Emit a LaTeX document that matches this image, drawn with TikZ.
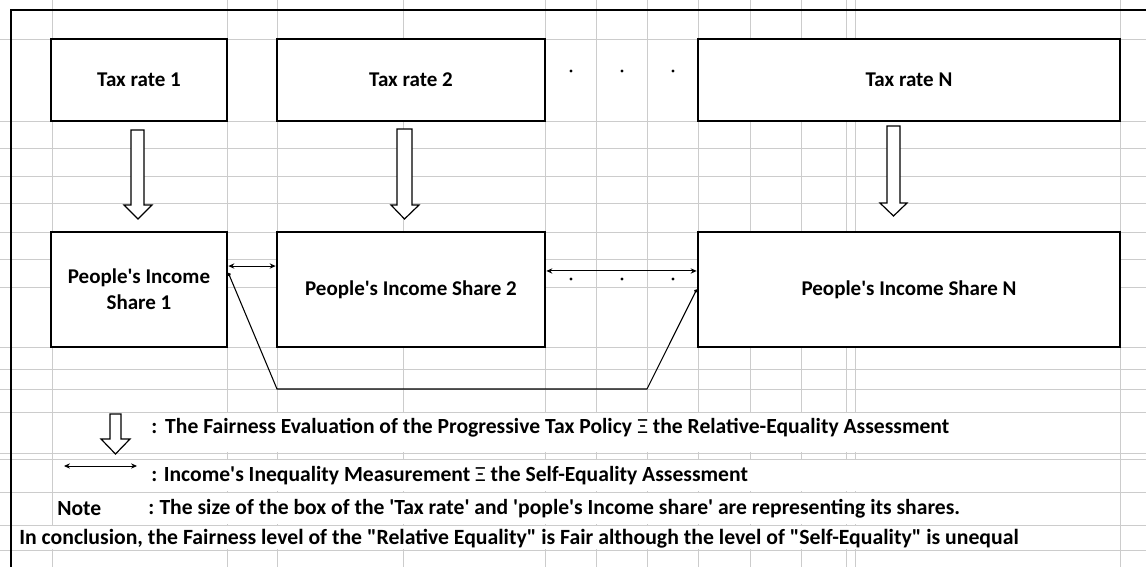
\documentclass[tikz,border=0pt]{standalone}
\usepackage{fontspec}
\setmainfont{Carlito}
\usetikzlibrary{arrows.meta,calc}
\newcommand\sq{\textquotesingle}
\newcommand\dq{\textquotedbl}
\newcommand\equivsign{{\mdseries Ξ}}
\begin{document}
\begin{tikzpicture}[x=0.75pt,y=-0.75pt,
  gridline/.style={draw=black!20,line width=0.6pt},
  frameline/.style={draw=black,line width=2.2pt},
  box/.style={draw=black,line width=2pt,fill=white,align=center,inner sep=0pt,
    font=\fontsize{15.75}{19.5}\selectfont\bfseries},
  hollow/.style={draw=black,line width=0.9pt,fill=white,line join=miter},
  darrow/.style={draw=black,line width=0.75pt,{Stealth[length=4.5pt,width=4pt]}-{Stealth[length=4.5pt,width=4pt]}},
  conn/.style={draw=black,line width=0.8pt,{Circle[length=2.6pt]}-{Circle[length=2.6pt]}},
  dotmark/.style={fill=black,circle,inner sep=0pt,minimum size=2.4pt},
  legend/.style={anchor=west,inner sep=0pt,font=\fontsize{16.2}{18}\selectfont\bfseries}]
\useasboundingbox (0,0) rectangle (1146,567);
\fill[white] (0,0) rectangle (1146,567);
% spreadsheet grid
\foreach \gx in {52,227,277,403,545,596,647,698,750,801,846,855,1120}
  \draw[gridline] (\gx,0) -- (\gx,567);
\foreach \gy in {39,121,148,176,203,232,259,287,347,369,389,412,453,459,492,525,550}
  \draw[gridline] (0,\gy) -- (1146,\gy);
% merged text rows hide grid lines
\fill[white] (52.6,412.6) rectangle (1119.4,452.4);
\fill[white] (52.6,459.6) rectangle (1119.4,491.4);
\fill[white] (52.6,492.6) rectangle (1119.4,524.4);
\fill[white] (11,525.6) rectangle (1119.4,549.4);
% frame
\draw[frameline] (11,567) -- (11,10) -- (1146,10);
% tax rate boxes
\node[box,minimum width=132pt,minimum height=61.5pt] (t1) at (139,80) {\raisebox{-1.5pt}{Tax rate 1}};
\node[box,minimum width=201pt,minimum height=61.5pt] (t2) at (411,80) {\raisebox{-1.5pt}{Tax rate 2}};
\node[box,minimum width=316.5pt,minimum height=61.5pt] (tN) at (909,80) {\raisebox{-1.5pt}{Tax rate N}};
% income share boxes
\node[box,minimum width=132pt,minimum height=86.25pt] (p1) at (139,289.5) {People\sq s Income\\Share 1};
\node[box,minimum width=201pt,minimum height=86.25pt] (p2) at (411,289.5) {\raisebox{-1.5pt}{People\sq s Income Share 2}};
\node[box,minimum width=316.5pt,minimum height=86.25pt] (pN) at (909,289.5) {\raisebox{-1.5pt}{People\sq s Income Share N}};
% ellipsis dots
\foreach \dx [count=\i] in {571,622,673} {
  \node[dotmark] (ut\i) at (\dx,71) {};
  \node[dotmark] (lt\i) at (\dx,279) {};
}
% hollow block arrows
\draw[hollow] (131,130) -- (144,130) -- (144,205) -- (152,205) -- (138,219) -- (124,205) -- (131,205) -- cycle;
\draw[hollow] (397,129) -- (412,129) -- (412,205) -- (419,205) -- (404.5,219) -- (391,205) -- (397,205) -- cycle;
\draw[hollow] (887,126) -- (900,126) -- (900,203) -- (907,203) -- (893.5,216) -- (880,203) -- (887,203) -- cycle;
% self-equality arrows
\draw[darrow] ([yshift=17.6pt]p1.east) -- ([yshift=17.6pt]p2.west);
\draw[darrow] ([yshift=13.9pt]p2.east) -- ([yshift=13.9pt]pN.west);
\coordinate (c1) at (277,389);
\coordinate (c2) at (647,389);
\draw[conn] ([yshift=12.4pt]p1.east) -- (c1) -- (c2) -- (pN.west);
% legend
\draw[hollow] (110,414) -- (121,414) -- (121,439) -- (130,439) -- (115.5,454) -- (101,439) -- (110,439) -- cycle;
\node[legend] (l1) at (151,428) {:\hspace{6pt}The Fairness Evaluation of the Progressive Tax Policy\hspace{4pt}\equivsign{} the Relative-Equality Assessment};
\coordinate (la) at (64,466);
\coordinate (lb) at (137,466);
\draw[darrow] (la) -- (lb);
\node[legend] (l2) at (151,476) {:\hspace{5pt}Income\sq s Inequality Measurement \equivsign{} the Self-Equality Assessment};
\node[legend] (note) at (57,509) {Note};
\node[legend] (l3) at (148,509) {:\hspace{4pt}The size of the box of the \sq Tax rate\sq\ and \sq pople\sq s Income share\sq\ are representing its shares.};
\node[legend,font=\fontsize{16.3}{18}\selectfont\bfseries] (l4) at (19,539) {In conclusion, the Fairness level of the \dq Relative Equality\dq\ is Fair although the level of \dq Self-Equality\dq\ is unequal};
\end{tikzpicture}
\end{document}
